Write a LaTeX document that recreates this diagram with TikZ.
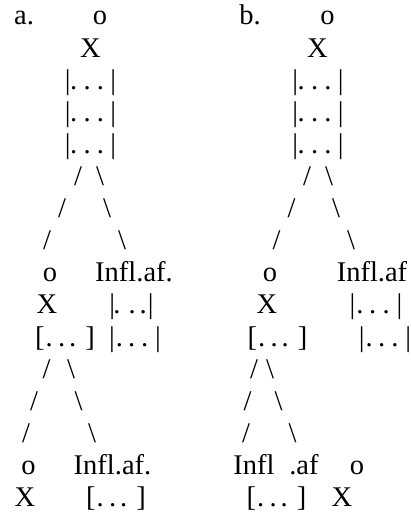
\documentclass[tikz,border=0pt]{standalone}
\usepackage{fontspec}
\setmainfont{Liberation Serif}
\usepackage{tikz}
\usetikzlibrary{positioning}
\newcommand{\dts}[1]{.\kern#1.\kern#1.}
\tikzset{
    word/.style = {inner sep=0pt, anchor=base, font=\fontsize{28.5}{34}\selectfont},
    branch/.style = {word}
}

\begin{document}
\begin{tikzpicture}[x=1pt, y=-1pt]
\useasboundingbox (0,0) rectangle (411,513);
\node (aLab) [word] at (24,25) {a.};
\node (aO) [word] at (100,25) {o};
\node (aX) [word] at (90.5,57.1) {X};
\node (aR1) [word] at (90.5,89.2) {|\kern-0.5pt\dts{6.3pt}\kern6.3pt|};
\node (aR2) [word] at (90.5,121.3) {|\kern-0.5pt\dts{6.3pt}\kern6.3pt|};
\node (aR3) [word] at (90.5,153.4) {|\kern-0.5pt\dts{6.3pt}\kern6.3pt|};
\node (aS1) [branch] at (78,185.5) {/};
\node (aB1) [branch] at (100,185.5) {\textbackslash};
\node (aS2) [branch] at (62,217.6) {/};
\node (aB2) [branch] at (107,217.6) {\textbackslash};
\node (aS3) [branch] at (47,249.7) {/};
\node (aB3) [branch] at (122,249.7) {\textbackslash};
\node (aO2) [word] at (50,281.8) {o};
\node (aInf) [word] at (134,281.8) {Infl.af.};
\node (aX2) [word] at (47,313.9) {X};
\node (aV1) [word] at (131.5,313.9) {|\kern-1.7pt.\kern8pt.\kern4pt.\kern1.1pt|};
\node (aBr) [word] at (65,346) {[\kern1pt.\kern5.3pt.\kern4pt.\kern9pt]};
\node (aV2) [word] at (135,346) {|\kern1pt.\kern5.3pt.\kern5.7pt.\kern7pt|};
\node (aS4) [branch] at (46.5,378.1) {/};
\node (aB4) [branch] at (71,378.1) {\textbackslash};
\node (aS5) [branch] at (34,410.2) {/};
\node (aB5) [branch] at (78.5,410.2) {\textbackslash};
\node (aS6) [branch] at (26,442.3) {/};
\node (aB6) [branch] at (92,442.3) {\textbackslash};
\node (aO3) [word] at (28.5,474.4) {o};
\node (aInf2) [word] at (112.5,474.4) {Infl.af.};
\node (aX3) [word] at (25,506.5) {X};
\node (aBr2) [word] at (116,506.5) {[\kern1pt.\kern5.3pt.\kern4pt.\kern9pt]};

\node (bLab) [word] at (250,25) {b.};
\node (bO) [word] at (327.5,25) {o};
\node (bX) [word] at (317.5,57.1) {X};
\node (bR1) [word] at (318,89.2) {|\kern-0.5pt\dts{6.3pt}\kern6.3pt|};
\node (bR2) [word] at (318,121.3) {|\kern-0.5pt\dts{6.3pt}\kern6.3pt|};
\node (bR3) [word] at (318,153.4) {|\kern-0.5pt\dts{6.3pt}\kern6.3pt|};
\node (bS1) [branch] at (307,185.5) {/};
\node (bB1) [branch] at (329,185.5) {\textbackslash};
\node (bS2) [branch] at (291.5,217.6) {/};
\node (bB2) [branch] at (336,217.6) {\textbackslash};
\node (bS3) [branch] at (276.5,249.7) {/};
\node (bB3) [branch] at (351,249.7) {\textbackslash};
\node (bO2) [word] at (270,281.8) {o};
\node (bInf) [word] at (372,281.8) {Infl.af};
\node (bX2) [word] at (267,313.9) {X};
\node (bV1) [word] at (376,313.9) {|\kern1pt.\kern5.6pt.\kern6.4pt.\kern7pt|};
\node (bBr) [word] at (277.5,346) {[\kern1pt.\kern5.3pt.\kern4pt.\kern9pt]};
\node (bV2) [word] at (385,346) {|\kern1pt.\kern5.5pt.\kern6pt.\kern7pt|};
\node (bS4) [branch] at (254,378.1) {/};
\node (bB4) [branch] at (270,378.1) {\textbackslash};
\node (bS5) [branch] at (247.5,410.2) {/};
\node (bB5) [branch] at (278.5,410.2) {\textbackslash};
\node (bS6) [branch] at (246,442.3) {/};
\node (bB6) [branch] at (292.5,442.3) {\textbackslash};
\node (bInf2) [word] at (254,474.4) {Infl};
\node (bAf) [word] at (304,474.4) {.af};
\node (bO3) [word] at (357,474.4) {o};
\node (bBr2) [word] at (276.5,506.5) {[\kern1pt.\kern5.3pt.\kern4pt.\kern9pt]};
\node (bX3) [word] at (342,506.5) {X};
\end{tikzpicture}
\end{document}
